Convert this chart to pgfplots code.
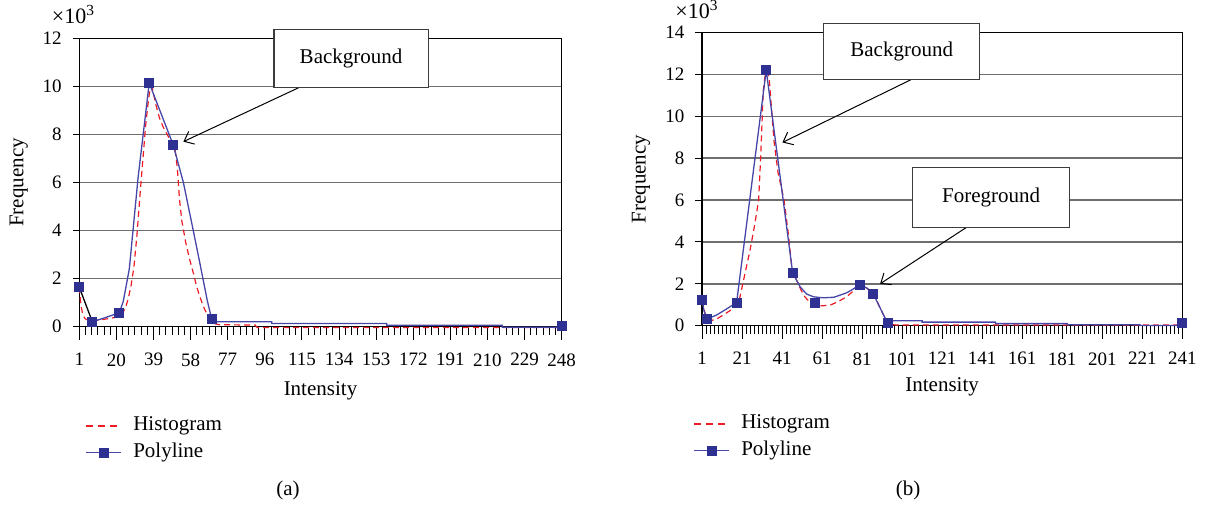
\documentclass[border=0pt]{standalone}
\usepackage{fontspec}
\setmainfont{Liberation Serif}
\usepackage{pgfplots}
\pgfplotsset{compat=1.18}
\usetikzlibrary{arrows.meta}

\definecolor{histred}{RGB}{237,28,36}
\definecolor{polyblue}{RGB}{70,70,168}
\definecolor{markblue}{RGB}{46,49,146}
\definecolor{gridgray}{RGB}{110,110,110}
\definecolor{boxgray}{RGB}{60,60,60}

\tikzset{
  boxst/.style={draw=boxgray, line width=0.55pt, fill=white},
  arrst/.style={black, line width=0.5pt, -{Straight Barb[length=4.2pt, width=7pt]}},
}

\pgfplotsset{
  panel/.style={
    scale only axis,
    axis line style={black, line width=0.6pt},
    ymajorgrids, grid style={gridgray, line width=0.7pt},
    tick align=outside,
    xtick pos=bottom, ytick pos=left,
    major tick length=3.3pt, minor tick length=4pt,
    every tick/.style={black, line width=0.5pt},
    extra tick style={major tick length=6.5pt, grid=none},
    xticklabel={\pgfmathprintnumber[assume math mode=true]{\tick}},
    yticklabel={\pgfmathprintnumber[assume math mode=true]{\tick}},
    ticklabel style={font=\fontsize{9.5}{11}\selectfont},
    xticklabel style={yshift=-6.5pt},
    yticklabel style={xshift=-2pt},
    label style={font=\fontsize{10.5}{12}\selectfont},
    clip=false,
    legend cell align=left,
    legend style={anchor=north west, draw=white, fill=white, inner sep=0pt,
      font=\fontsize{10.5}{12}\selectfont,
      nodes={inner sep=1pt, text height=7.5pt, text depth=2.5pt},
      column sep=4.5pt, row sep=1.5pt},
  },
  hist/.style={color=histred, line width=0.6pt, dash pattern=on 3pt off 2pt,
    legend image code/.code={
      \draw[color=histred, line width=0.95pt, dash pattern=on 3.5pt off 2.5pt] (0pt,0pt) -- (17.5pt,0pt);}},
  poly/.style={color=polyblue, line width=0.65pt},
  marks/.style={only marks, mark=square*, mark size=2.25pt,
    mark options={draw=markblue, fill=markblue},
    legend image code/.code={
      \draw[color=polyblue, line width=0.65pt] (0pt,0pt) -- (17.5pt,0pt);
      \fill[color=markblue] (8.75pt,0pt) +(-2.25pt,-2.25pt) rectangle +(2.25pt,2.25pt);}},
}

\begin{document}
\begin{tikzpicture}
\useasboundingbox (0pt,0pt) rectangle (603.5pt,-253.5pt);

% (a)
\begin{axis}[panel, at={(39.65pt,-163.35pt)}, anchor=south west,
  width=241.2pt, height=144.2pt,
  xmin=1, xmax=248, ymin=0, ymax=12,
  xtick={1,20,...,248}, minor x tick num=5,
  extra x ticks={1,20,...,248}, extra x tick labels={},
  ytick={0,2,...,12},
  xlabel={Intensity}, ylabel={Frequency},
  xlabel style={at={(axis description cs:0.5,-0.222)}, anchor=center},
  ylabel style={at={(axis description cs:-0.1254,0.5)}, anchor=center},
  legend style={at={(axis description cs:0.0118,-0.3008)}},
]
\addplot[hist] coordinates {
  (1,1.64) (1.8,0.9) (2.8,0.5) (4,0.33) (6,0.25) (9,0.25) (13,0.3) (17,0.35)
  (20,0.4) (22.5,0.5) (24.5,0.75) (26,1.15) (27.5,1.7) (29,2.5) (30.5,3.8)
  (32,5.4) (33.5,6.9) (35,8.4) (36.5,9.5) (37.5,10) (38.5,9.9) (40,9.3)
  (42,8.7) (44,8.3) (46,8.0) (48,7.7) (50,7.4) (51.2,6.6) (52.3,5.3)
  (53.5,4.4) (55.5,3.5) (57.5,2.8) (59.5,2.2) (61,1.7) (62.5,1.3) (64.5,0.85)
  (66.5,0.5) (68.5,0.25) (70.5,0.12) (73,0.08) (91,0.07) (92,-0.03) (248,-0.03)
};
\addlegendentry{Histogram}
\addplot[forget plot, black, line width=0.65pt] coordinates {(1,1.64) (7.66,0.21)};
\addplot[forget plot, poly] coordinates {
  (7.66,0.21) (13.3,0.35) (21.5,0.58) (23.5,1.05) (26.6,2.4) (31.1,6.2)
  (36.8,10.14) (49.1,7.56) (54.3,6.0) (58.6,4.3) (62.6,2.7) (66.5,1.1)
  (68.8,0.31) (69.8,0.21) (99.5,0.21) (99.5,0.13) (158.4,0.13) (158.4,0.06)
  (217.6,0.06) (217.6,-0.02) (247,-0.02) (248,0.03)
};
\addplot[marks] coordinates {
  (1,1.64) (7.66,0.21) (21.5,0.58) (36.8,10.14) (49.1,7.56) (68.8,0.31) (248,0.03)
};
\addlegendentry{Polyline}
\draw[arrst] (axis cs:114,9.97) -- (axis cs:54.3,7.7);
\draw[boxst] (axis cs:100.7,12.35) rectangle (axis cs:179.6,9.97);
\node[font=\fontsize{10.5}{12}\selectfont] at (axis cs:140.15,11.16) {Background};
\node[anchor=base, inner sep=0pt, font=\fontsize{11}{12}\selectfont] at ([xshift=-2.9pt, yshift=7.5pt]rel axis cs:0,1) {×10\textsuperscript{3}};
\end{axis}

% (b)
\begin{axis}[panel, at={(351pt,-162.85pt)}, anchor=south west,
  width=240.15pt, height=146.6pt,
  xmin=1, xmax=241, ymin=0, ymax=14,
  xtick={1,21,...,241}, minor x tick num=9,
  extra x ticks={1,21,...,241}, extra x tick labels={},
  ytick={0,2,...,14},
  xlabel={Intensity}, ylabel={Frequency},
  xlabel style={at={(axis description cs:0.5,-0.208)}, anchor=center},
  ylabel style={at={(axis description cs:-0.127,0.5)}, anchor=center},
  legend style={at={(axis description cs:-0.0187,-0.292)}},
]
\addplot[hist] coordinates {
  (1.2,1.22) (2.5,0.6) (5,0.24) (8,0.3) (11.6,0.51) (15,0.72) (18.3,0.95)
  (20,1.38) (22.5,2.5) (25,3.6) (27.3,4.8) (29.3,6.0) (30.3,8.0) (31.6,11.2)
  (32.6,12.0) (33.2,12.15) (34.5,11.9) (35.7,10.4) (37,8.8) (39,7.3) (42,6.0)
  (44,4.5) (46,2.7) (48.3,2.17) (50.5,1.7) (52.4,1.38) (55,1.1) (57.7,0.98)
  (61,0.95) (65,0.98) (69,1.15) (73.3,1.38) (76.5,1.65) (79.1,1.86) (81.5,1.88)
  (83.3,1.8) (85.5,1.65) (87.5,1.38) (89.5,0.95) (91.7,0.51) (93,0.2) (94.5,0.05)
  (100,0.03) (241,0.03)
};
\addlegendentry{Histogram}
\addplot[forget plot, poly] coordinates {
  (1.15,1.22) (2,0.7) (3.65,0.32) (8.3,0.51) (13.3,0.8) (18.3,1.11) (33.1,12.2)
  (46.3,2.52) (50,1.86) (53.3,1.51) (56.7,1.38) (61.5,1.33) (67,1.36) (73.3,1.57)
  (80.1,1.95) (83.3,1.8) (86.6,1.52) (90.5,0.75) (93.8,0.11) (95,0.24) (111,0.24)
  (111,0.17) (147.7,0.17) (147.7,0.1) (183.5,0.1) (183.5,0.05) (219.8,0.05)
  (219.8,0.01) (239,0.01) (241,0.12)
};
\addplot[marks] coordinates {
  (1.15,1.22) (3.65,0.32) (18.3,1.11) (33.1,12.2) (46.3,2.52) (57.6,1.07)
  (80.1,1.95) (86.6,1.52) (93.8,0.11) (241,0.12)
};
\addlegendentry{Polyline}
\draw[arrst] (axis cs:105.5,11.75) -- (axis cs:41.2,8.75);
\draw[boxst] (axis cs:61.9,14.45) rectangle (axis cs:139.7,11.75);
\node[font=\fontsize{10.5}{12}\selectfont] at (axis cs:100.8,13.1) {Background};
\draw[arrst] (axis cs:133.4,4.71) -- (axis cs:90,2.0);
\draw[boxst] (axis cs:106.2,7.57) rectangle (axis cs:184.8,4.71);
\node[font=\fontsize{10.5}{12}\selectfont] at (axis cs:145.5,6.14) {Foreground};
\node[anchor=base, inner sep=0pt, font=\fontsize{11}{12}\selectfont] at ([xshift=-2.5pt, yshift=7pt]rel axis cs:0,1) {×10\textsuperscript{3}};
\end{axis}

\node[font=\fontsize{10.5}{12}\selectfont] at (144pt,-245pt) {(a)};
\node[font=\fontsize{10.5}{12}\selectfont] at (454pt,-245pt) {(b)};
\end{tikzpicture}
\end{document}
